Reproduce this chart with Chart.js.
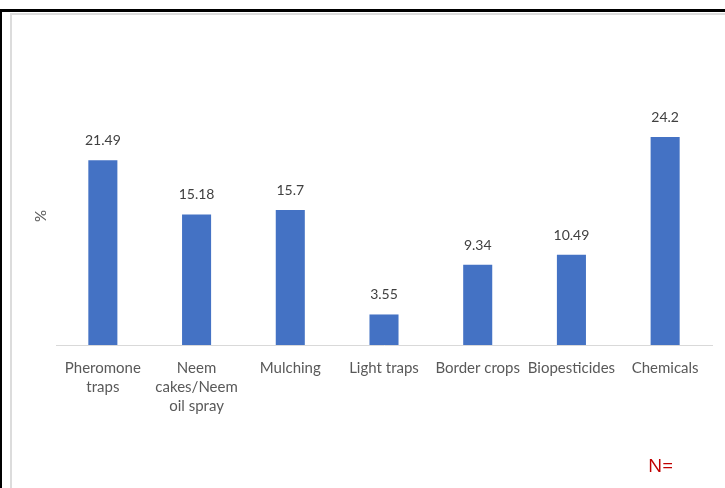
<!DOCTYPE html>
<html>
<head>
<meta charset="utf-8">
<script src="https://cdn.jsdelivr.net/npm/chart.js@4.4.1/dist/chart.umd.min.js"></script>
<style>
  html, body { margin: 0; padding: 0; background: #fff; }
  body { width: 725px; height: 488px; position: relative; overflow: hidden; }
  .edge-black-top { position: absolute; left: 0; top: 9px; width: 725px; height: 3px; background: #000; }
  .edge-black-left { position: absolute; left: 0; top: 9px; width: 2px; height: 479px; background: #000; }
  .frame { position: absolute; left: 10px; top: 13px; width: 720px; height: 480px; border-left: 2px solid #dcdcdc; border-top: 2px solid #dcdcdc; box-sizing: border-box; }
  #wrap { position: absolute; left: 0; top: 0; width: 725px; height: 488px; }
  .note { position: absolute; left: 648px; top: 452px; color: #c00000; font: 19px "Open Sans", sans-serif; }
</style>
</head>
<body>
<div class="edge-black-top"></div>
<div class="edge-black-left"></div>
<div class="frame"></div>
<div id="wrap"><canvas id="chart" width="725" height="488"></canvas></div>
<div class="note">N=</div>
<script>
const categories = [['Pheromone', 'traps'], ['Neem', 'cakes/Neem', 'oil spray'], 'Mulching', 'Light traps', 'Border crops', 'Biopesticides', 'Chemicals'];
const shares = [21.49, 15.18, 15.7, 3.55, 9.34, 10.49, 24.2];

const fontFam = 'Lato, "Open Sans", sans-serif';

// value labels above the bars
const valueLabels = {
  id: 'valueLabels',
  afterDatasetsDraw(chart){
    const ctx = chart.ctx;
    const meta = chart.getDatasetMeta(0);
    ctx.save();
    ctx.font = '14px ' + fontFam;
    ctx.fillStyle = '#404040';
    ctx.textAlign = 'center';
    ctx.textBaseline = 'alphabetic';
    meta.data.forEach((bar, i) => {
      ctx.fillText(String(shares[i]), bar.x, bar.y - 15);
    });
    ctx.restore();
  }
};

new Chart(document.getElementById('chart').getContext('2d'), {
  type: 'bar',
  data: {
    labels: categories,
    datasets: [{ data: shares, backgroundColor: '#4472c4', barPercentage: 0.62, categoryPercentage: 0.5 }]
  },
  options: {
    responsive: false,
    animation: false,
    layout: { padding: { left: 28, right: 13, top: 87, bottom: 0 } },
    plugins: { legend: { display: false }, tooltip: { enabled: false } },
    scales: {
      x: {
        grid: { display: false },
        border: { display: true, color: '#d9d9d9', width: 1 },
        ticks: { color: '#595959', font: { family: fontFam, size: 15, lineHeight: 1.27 }, padding: 6, autoSkip: false, maxRotation: 0 },
        afterFit(axis){ axis.height = 143; }
      },
      y: {
        min: 0, max: 30,
        grid: { display: false },
        border: { display: false },
        ticks: { display: false },
        title: { display: true, text: '%', color: '#595959', font: { family: fontFam, size: 15 } },
        afterFit(axis){ axis.width = 28; }
      }
    }
  },
  plugins: [valueLabels]
});
</script>
</body>
</html>
